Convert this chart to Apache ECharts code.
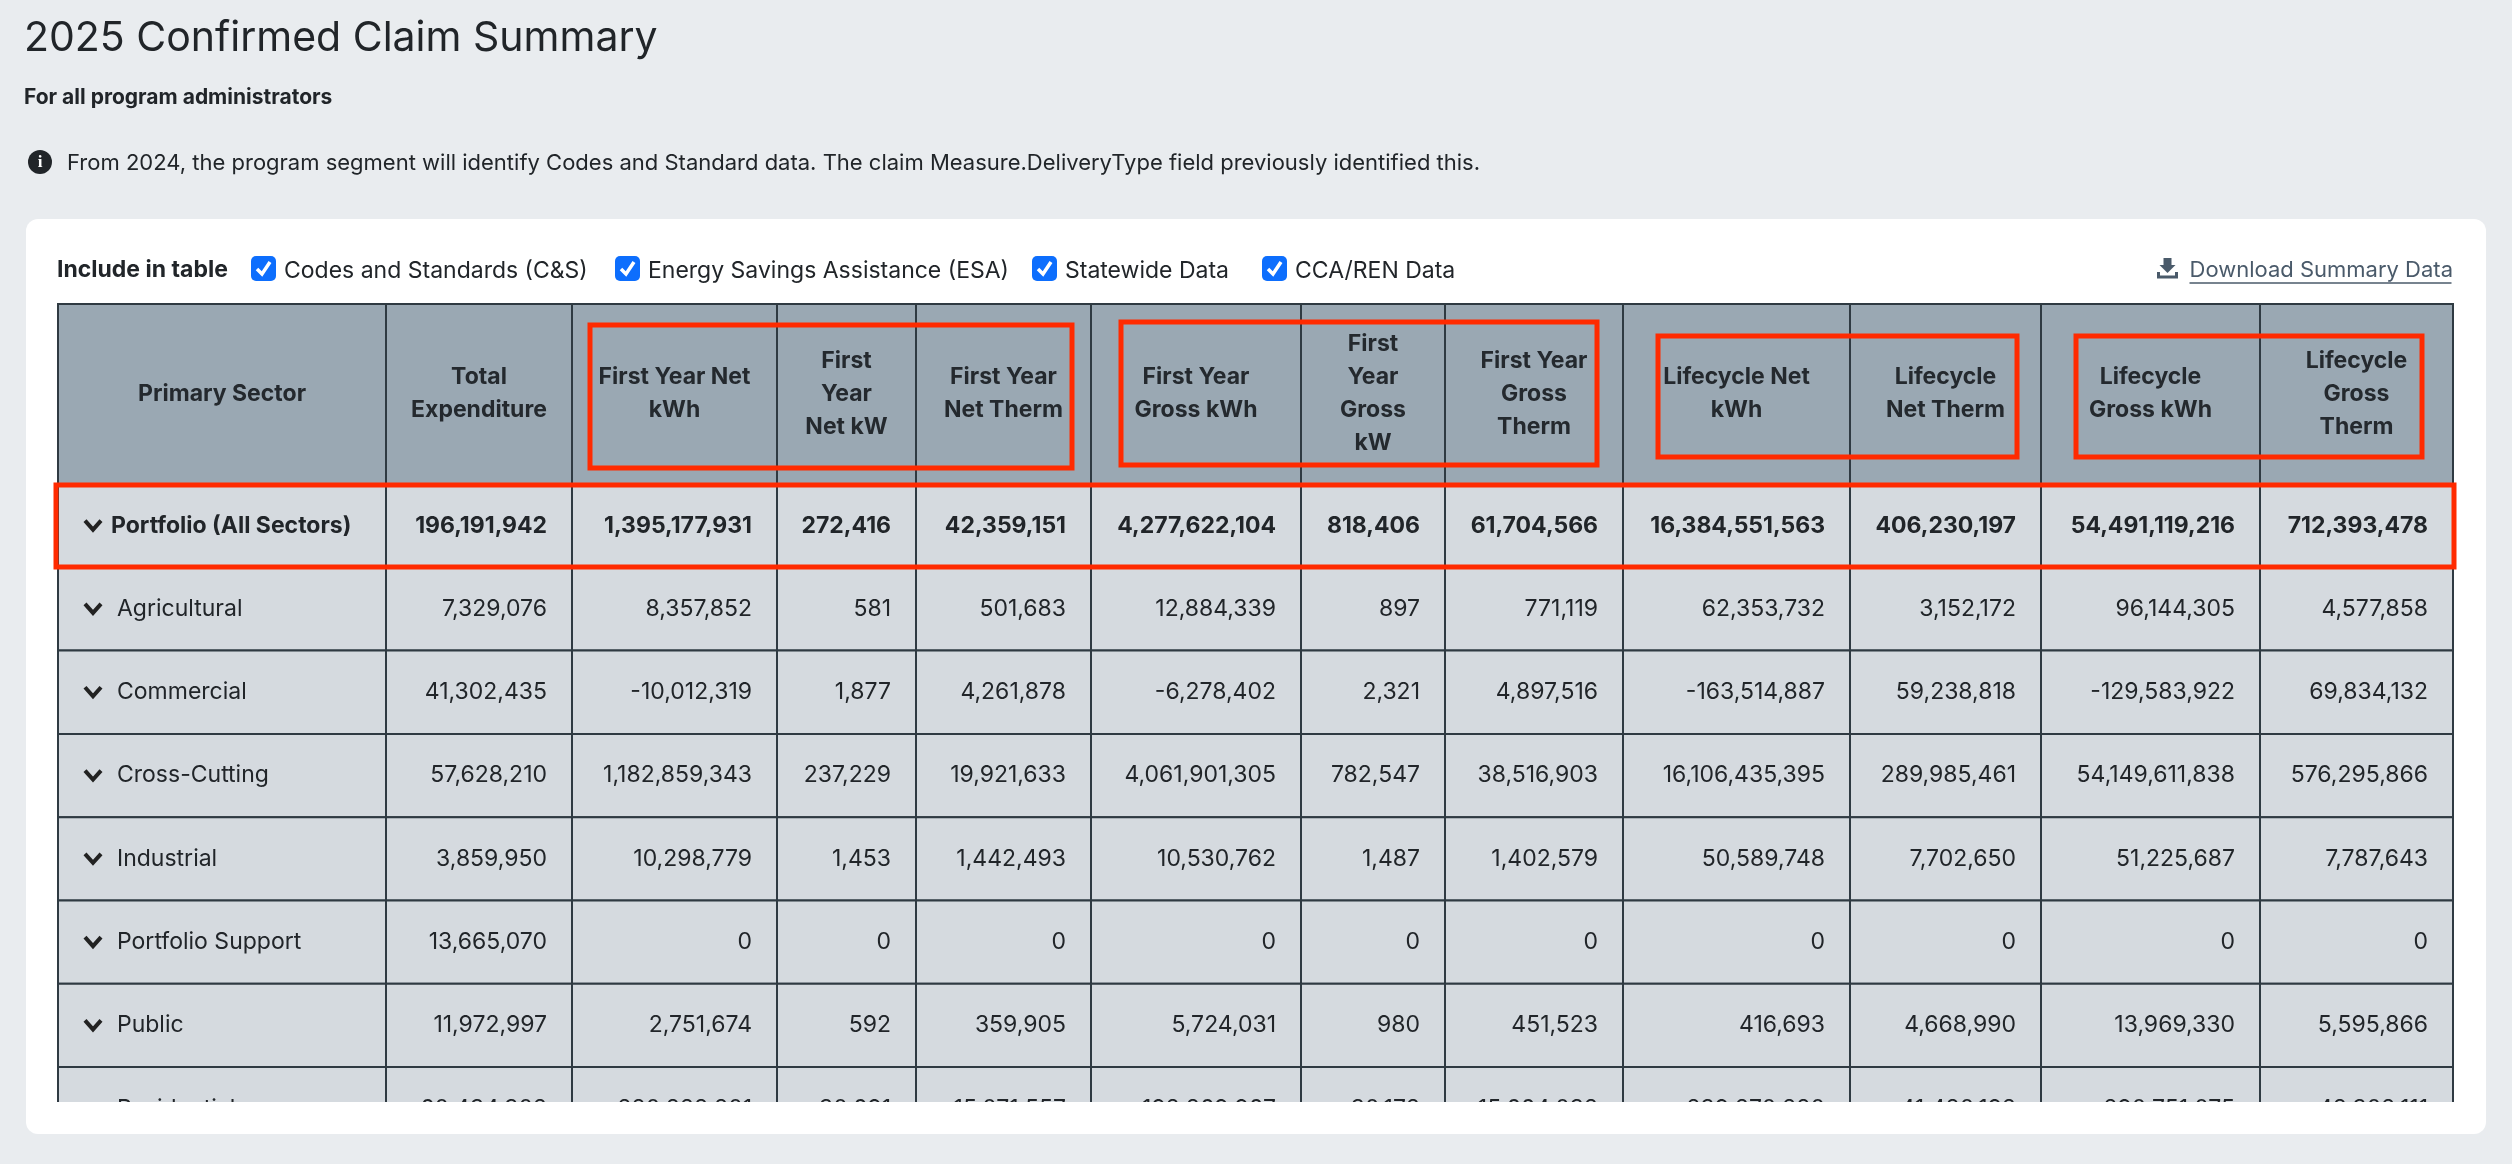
<!DOCTYPE html>
<html>
<head>
<meta charset="utf-8">
<script src="https://cdn.jsdelivr.net/npm/echarts@6/dist/echarts.min.js"></script>
<style>
html,body{margin:0;padding:0;background:#e9ecef;}
#chartWrapper{width:2512px;height:1164px;}
</style>
</head>
<body>
<div id="chartWrapper"></div>
<script>
let myChart = echarts.init(document.getElementById('chartWrapper'));
const FONT = 'Inter, Roboto, "Liberation Sans", sans-serif';

// column edges and header text
let colEdges = [58, 386, 572, 777, 916, 1091, 1301, 1445, 1623, 1850, 2041, 2260, 2453];
let headers = ['Primary Sector', 'Total\nExpenditure', 'First Year Net\nkWh', 'First\nYear\nNet kW',
    'First Year\nNet Therm', 'First Year\nGross kWh', 'First\nYear\nGross\nkW', 'First Year\nGross\nTherm',
    'Lifecycle Net\nkWh', 'Lifecycle\nNet Therm', 'Lifecycle\nGross kWh', 'Lifecycle\nGross\nTherm'];
let headerTop = 304, headerBottom = 484, rowH = 83.3;

// table rows
let rows = [
    ['Portfolio (All Sectors)', 196191942, 1395177931, 272416, 42359151, 4277622104, 818406, 61704566, 16384551563, 406230197, 54491119216, 712393478],
    ['Agricultural', 7329076, 8357852, 581, 501683, 12884339, 897, 771119, 62353732, 3152172, 96144305, 4577858],
    ['Commercial', 41302435, -10012319, 1877, 4261878, -6278402, 2321, 4897516, -163514887, 59238818, -129583922, 69834132],
    ['Cross-Cutting', 57628210, 1182859343, 237229, 19921633, 4061901305, 782547, 38516903, 16106435395, 289985461, 54149611838, 576295866],
    ['Industrial', 3859950, 10298779, 1453, 1442493, 10530762, 1487, 1402579, 50589748, 7702650, 51225687, 7787643],
    ['Portfolio Support', 13665070, 0, 0, 0, 0, 0, 0, 0, 0, 0, 0],
    ['Public', 11972997, 2751674, 592, 359905, 5724031, 980, 451523, 416693, 4668990, 13969330, 5595866],
    ['Residential', 60434302, 280828801, 30691, 15071557, 192869967, 30172, 15664032, 239270280, 41480192, 290751075, 48302111]
];

// highlighted boxes [x0, y0, x1, y1]
let marks = [
    [590, 325, 1072, 468], [1121, 322, 1597, 465], [1658, 336, 2017, 457],
    [2076, 336, 2422, 457], [56, 485, 2454, 567]
];

let cellData = [];
headers.forEach(function (h, c) {
    cellData.push([colEdges[c], headerTop, colEdges[c + 1], headerBottom, h, 'header', c]);
});
rows.forEach(function (r, i) {
    let y0 = headerBottom + i * rowH;
    r.forEach(function (v, c) {
        let txt = c === 0 ? v : v.toLocaleString('en-US');
        cellData.push([colEdges[c], y0, colEdges[c + 1], y0 + rowH, txt, i === 0 ? 'total' : 'row', c]);
    });
});

function renderCell(params, api) {
    let p0 = api.coord([api.value(0), api.value(1)]);
    let p1 = api.coord([api.value(2), api.value(3)]);
    let kind = api.value(5);
    let col = api.value(6);
    let txt = cellData[params.dataIndex][4];
    let children = [{
        type: 'rect',
        shape: {x: p0[0], y: p0[1], width: p1[0] - p0[0], height: p1[1] - p0[1]},
        style: {fill: kind === 'header' ? '#9aa8b3' : '#d5dadf', stroke: '#2f3a42', lineWidth: 2}
    }];
    let cy = (p0[1] + p1[1]) / 2;
    if (kind === 'header') {
        children.push({
            type: 'text',
            style: {x: (p0[0] + p1[0]) / 2, y: cy, text: txt, align: 'center', verticalAlign: 'middle',
                font: 'bold 23px ' + FONT, fill: '#24292e', lineHeight: 33}
        });
    } else if (col === 0) {
        let cx = p0[0] + 27;
        children.push({
            type: 'polyline',
            shape: {points: [[cx, cy - 5], [cx + 8, cy + 4], [cx + 16, cy - 5]]},
            style: {stroke: '#222', lineWidth: 4, fill: null}
        });
        children.push({
            type: 'text',
            style: {x: p0[0] + (kind === 'total' ? 53 : 59), y: cy, text: txt, verticalAlign: 'middle',
                font: (kind === 'total' ? 'bold ' : '') + '23px ' + FONT, fill: '#212529'}
        });
    } else {
        children.push({
            type: 'text',
            style: {x: p1[0] - 25, y: cy, text: txt, align: 'right', verticalAlign: 'middle',
                font: (kind === 'total' ? 'bold ' : '') + '23px ' + FONT, fill: '#212529'}
        });
    }
    return {type: 'group', children: children};
}

function renderMark(params, api) {
    let p0 = api.coord([api.value(0), api.value(1)]);
    let p1 = api.coord([api.value(2), api.value(3)]);
    return {
        type: 'rect',
        shape: {x: p0[0], y: p0[1], width: p1[0] - p0[0], height: p1[1] - p0[1]},
        style: {fill: null, stroke: '#ff2a00', lineWidth: 5}
    };
}

function checkbox(x, label) {
    return {
        type: 'group', left: x, top: 256,
        children: [
            {type: 'rect', shape: {x: 0, y: 0, width: 25, height: 25, r: 5}, style: {fill: '#0d6efd'}},
            {type: 'polyline', shape: {points: [[6, 13], [11, 18], [19, 6]]}, style: {stroke: '#fff', lineWidth: 3.5, fill: null}},
            {type: 'text', style: {x: 33, y: 15, text: label, verticalAlign: 'middle', font: '23px ' + FONT, fill: '#212529'}}
        ]
    };
}

let option = {
    animation: false,
    backgroundColor: '#e9ecef',
    grid: {left: 0, right: 0, top: 0, bottom: 62},
    xAxis: {type: 'value', min: 0, max: 2512, show: false},
    yAxis: {type: 'value', min: 0, max: 1102, inverse: true, show: false},
    graphic: [
        {type: 'rect', z: -10, shape: {x: 26, y: 219, width: 2460, height: 915, r: 12}, style: {fill: '#ffffff'}},
        {type: 'text', left: 24, top: 18, style: {text: '2025 Confirmed Claim Summary', font: '41px ' + FONT, fill: '#212529'}},
        {type: 'text', left: 24, top: 87, style: {text: 'For all program administrators', font: 'bold 21px ' + FONT, fill: '#212529'}},
        {type: 'group', left: 28, top: 150, children: [
            {type: 'circle', shape: {cx: 12, cy: 12, r: 12}, style: {fill: '#212529'}},
            {type: 'text', style: {x: 12, y: 13, text: 'i', align: 'center', verticalAlign: 'middle', font: 'bold 17px serif', fill: '#fff'}},
            {type: 'text', style: {x: 39, y: 13, text: 'From 2024, the program segment will identify Codes and Standard data. The claim Measure.DeliveryType field previously identified this.', verticalAlign: 'middle', font: '22px ' + FONT, fill: '#212529'}}
        ]},
        {type: 'text', left: 57, top: 259, style: {text: 'Include in table', font: 'bold 23px ' + FONT, fill: '#212529'}},
        checkbox(251, 'Codes and Standards (C&S)'),
        checkbox(615, 'Energy Savings Assistance (ESA)'),
        checkbox(1032, 'Statewide Data'),
        checkbox(1262, 'CCA/REN Data'),
        {type: 'group', left: 2156, top: 258, children: [
            {type: 'polyline', shape: {points: [[3, 16], [3, 21], [21, 21], [21, 16]]}, style: {stroke: '#4a5a6a', lineWidth: 3, fill: null}},
            {type: 'polygon', shape: {points: [[8, 2], [16, 2], [16, 9], [20, 9], [12, 17], [4, 9], [8, 9]]}, style: {fill: '#4a5a6a'}},
            {type: 'text', style: {x: 34, y: 14, text: 'Download Summary Data', verticalAlign: 'middle', font: '22px ' + FONT, fill: '#4a5a6a'}},
            {type: 'line', shape: {x1: 34, y1: 27, x2: 296, y2: 27}, style: {stroke: '#4a5a6a', lineWidth: 1.5}}
        ]}
    ],
    series: [
        {type: 'custom', renderItem: renderCell, data: cellData, clip: true, silent: true},
        {type: 'custom', renderItem: renderMark, data: marks, clip: true, silent: true, z: 5}
    ]
};
myChart.setOption(option);
</script>
</body>
</html>
